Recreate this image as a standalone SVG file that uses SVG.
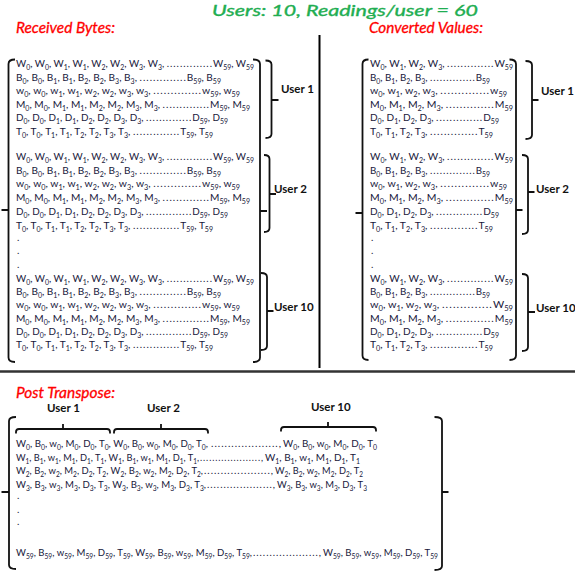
<svg xmlns="http://www.w3.org/2000/svg" width="575" height="585" viewBox="0 0 575 585">
<style>
text{font-family:Lato,"Liberation Sans",sans-serif;}
.r{font-size:10px;fill:#17173a;}
.s{font-size:7px;baseline-shift:-2.5px;}
.p{letter-spacing:1px;}
.h{font-size:15px;font-style:italic;fill:#ff0000;stroke:#ff0000;stroke-width:0.3px;}
.t{font-size:15px;font-style:italic;fill:#1fae52;stroke:#1fae52;stroke-width:0.35px;}
.u{font-size:11.5px;font-weight:bold;fill:#111;}
.d{font-size:10px;fill:#17173a;}
.b{fill:none;stroke:#111;stroke-width:1.8;stroke-linejoin:round;}
</style>
<rect width="575" height="585" fill="#fff"/>

<g id="title"><text class="t" x="345" y="16" text-anchor="middle" textLength="266" lengthAdjust="spacingAndGlyphs">Users: 10, Readings/user = 60</text></g>

<g id="dividers">
<line x1="319.5" y1="35" x2="319.5" y2="368" stroke="#000" stroke-width="2"/>
<line x1="0" y1="371.5" x2="575" y2="371.5" stroke="#333" stroke-width="2.5"/>
</g>

<g id="received">
<text class="h" x="16" y="33" textLength="99" lengthAdjust="spacingAndGlyphs">Received Bytes:</text>
<path class="b" d="M15,59.5 Q8.5,59.5 8.5,64 V357.5 Q8.5,362 15,362 M8.5,210 H1.5"/>
<path class="b" d="M253,59.5 Q260,59.5 260,64 V357.5 Q260,362 253,362 M260,211 H267"/>
<g id="recv-user1-rows" class="r">
<text x="16" y="67" textLength="238" lengthAdjust="spacingAndGlyphs">W<tspan class="s">0</tspan>, W<tspan class="s">0</tspan>, W<tspan class="s">1</tspan>, W<tspan class="s">1</tspan>, W<tspan class="s">2</tspan>, W<tspan class="s">2</tspan>, W<tspan class="s">3</tspan>, W<tspan class="s">3</tspan>, <tspan class="p">..............</tspan>W<tspan class="s">59</tspan>, W<tspan class="s">59</tspan></text>
<text x="16" y="80.6" textLength="205" lengthAdjust="spacingAndGlyphs">B<tspan class="s">0</tspan>, B<tspan class="s">0</tspan>, B<tspan class="s">1</tspan>, B<tspan class="s">1</tspan>, B<tspan class="s">2</tspan>, B<tspan class="s">2</tspan>, B<tspan class="s">3</tspan>, B<tspan class="s">3</tspan>, <tspan class="p">..............</tspan>B<tspan class="s">59</tspan>, B<tspan class="s">59</tspan></text>
<text x="16" y="94.2" textLength="224" lengthAdjust="spacingAndGlyphs">w<tspan class="s">0</tspan>, w<tspan class="s">0</tspan>, w<tspan class="s">1</tspan>, w<tspan class="s">1</tspan>, w<tspan class="s">2</tspan>, w<tspan class="s">2</tspan>, w<tspan class="s">3</tspan>, w<tspan class="s">3</tspan>, <tspan class="p">..............</tspan>w<tspan class="s">59</tspan>, w<tspan class="s">59</tspan></text>
<text x="16" y="107.8" textLength="234" lengthAdjust="spacingAndGlyphs">M<tspan class="s">0</tspan>, M<tspan class="s">0</tspan>, M<tspan class="s">1</tspan>, M<tspan class="s">1</tspan>, M<tspan class="s">2</tspan>, M<tspan class="s">2</tspan>, M<tspan class="s">3</tspan>, M<tspan class="s">3</tspan>, <tspan class="p">..............</tspan>M<tspan class="s">59</tspan>, M<tspan class="s">59</tspan></text>
<text x="16" y="121.4" textLength="212" lengthAdjust="spacingAndGlyphs">D<tspan class="s">0</tspan>, D<tspan class="s">0</tspan>, D<tspan class="s">1</tspan>, D<tspan class="s">1</tspan>, D<tspan class="s">2</tspan>, D<tspan class="s">2</tspan>, D<tspan class="s">3</tspan>, D<tspan class="s">3</tspan>, <tspan class="p">..............</tspan>D<tspan class="s">59</tspan>, D<tspan class="s">59</tspan></text>
<text x="16" y="135" textLength="197" lengthAdjust="spacingAndGlyphs">T<tspan class="s">0</tspan>, T<tspan class="s">0</tspan>, T<tspan class="s">1</tspan>, T<tspan class="s">1</tspan>, T<tspan class="s">2</tspan>, T<tspan class="s">2</tspan>, T<tspan class="s">3</tspan>, T<tspan class="s">3</tspan>, <tspan class="p">..............</tspan>T<tspan class="s">59</tspan>, T<tspan class="s">59</tspan></text>
</g>
<g id="recv-user2-rows" class="r">
<text x="16" y="160" textLength="238" lengthAdjust="spacingAndGlyphs">W<tspan class="s">0</tspan>, W<tspan class="s">0</tspan>, W<tspan class="s">1</tspan>, W<tspan class="s">1</tspan>, W<tspan class="s">2</tspan>, W<tspan class="s">2</tspan>, W<tspan class="s">3</tspan>, W<tspan class="s">3</tspan>, <tspan class="p">..............</tspan>W<tspan class="s">59</tspan>, W<tspan class="s">59</tspan></text>
<text x="16" y="173.7" textLength="205" lengthAdjust="spacingAndGlyphs">B<tspan class="s">0</tspan>, B<tspan class="s">0</tspan>, B<tspan class="s">1</tspan>, B<tspan class="s">1</tspan>, B<tspan class="s">2</tspan>, B<tspan class="s">2</tspan>, B<tspan class="s">3</tspan>, B<tspan class="s">3</tspan>, <tspan class="p">..............</tspan>B<tspan class="s">59</tspan>, B<tspan class="s">59</tspan></text>
<text x="16" y="187.4" textLength="224" lengthAdjust="spacingAndGlyphs">w<tspan class="s">0</tspan>, w<tspan class="s">0</tspan>, w<tspan class="s">1</tspan>, w<tspan class="s">1</tspan>, w<tspan class="s">2</tspan>, w<tspan class="s">2</tspan>, w<tspan class="s">3</tspan>, w<tspan class="s">3</tspan>, <tspan class="p">..............</tspan>w<tspan class="s">59</tspan>, w<tspan class="s">59</tspan></text>
<text x="16" y="201.1" textLength="234" lengthAdjust="spacingAndGlyphs">M<tspan class="s">0</tspan>, M<tspan class="s">0</tspan>, M<tspan class="s">1</tspan>, M<tspan class="s">1</tspan>, M<tspan class="s">2</tspan>, M<tspan class="s">2</tspan>, M<tspan class="s">3</tspan>, M<tspan class="s">3</tspan>, <tspan class="p">..............</tspan>M<tspan class="s">59</tspan>, M<tspan class="s">59</tspan></text>
<text x="16" y="214.8" textLength="212" lengthAdjust="spacingAndGlyphs">D<tspan class="s">0</tspan>, D<tspan class="s">0</tspan>, D<tspan class="s">1</tspan>, D<tspan class="s">1</tspan>, D<tspan class="s">2</tspan>, D<tspan class="s">2</tspan>, D<tspan class="s">3</tspan>, D<tspan class="s">3</tspan>, <tspan class="p">..............</tspan>D<tspan class="s">59</tspan>, D<tspan class="s">59</tspan></text>
<text x="16" y="228.5" textLength="197" lengthAdjust="spacingAndGlyphs">T<tspan class="s">0</tspan>, T<tspan class="s">0</tspan>, T<tspan class="s">1</tspan>, T<tspan class="s">1</tspan>, T<tspan class="s">2</tspan>, T<tspan class="s">2</tspan>, T<tspan class="s">3</tspan>, T<tspan class="s">3</tspan>, <tspan class="p">..............</tspan>T<tspan class="s">59</tspan>, T<tspan class="s">59</tspan></text>
<text class="d" x="17" y="241">.</text>
<text class="d" x="17" y="254">.</text>
<text class="d" x="17" y="268">.</text>
</g>
<g id="recv-user10-rows" class="r">
<text x="16" y="282" textLength="238" lengthAdjust="spacingAndGlyphs">W<tspan class="s">0</tspan>, W<tspan class="s">0</tspan>, W<tspan class="s">1</tspan>, W<tspan class="s">1</tspan>, W<tspan class="s">2</tspan>, W<tspan class="s">2</tspan>, W<tspan class="s">3</tspan>, W<tspan class="s">3</tspan>, <tspan class="p">..............</tspan>W<tspan class="s">59</tspan>, W<tspan class="s">59</tspan></text>
<text x="16" y="295.2" textLength="205" lengthAdjust="spacingAndGlyphs">B<tspan class="s">0</tspan>, B<tspan class="s">0</tspan>, B<tspan class="s">1</tspan>, B<tspan class="s">1</tspan>, B<tspan class="s">2</tspan>, B<tspan class="s">2</tspan>, B<tspan class="s">3</tspan>, B<tspan class="s">3</tspan>, <tspan class="p">..............</tspan>B<tspan class="s">59</tspan>, B<tspan class="s">59</tspan></text>
<text x="16" y="308.4" textLength="224" lengthAdjust="spacingAndGlyphs">w<tspan class="s">0</tspan>, w<tspan class="s">0</tspan>, w<tspan class="s">1</tspan>, w<tspan class="s">1</tspan>, w<tspan class="s">2</tspan>, w<tspan class="s">2</tspan>, w<tspan class="s">3</tspan>, w<tspan class="s">3</tspan>, <tspan class="p">..............</tspan>w<tspan class="s">59</tspan>, w<tspan class="s">59</tspan></text>
<text x="16" y="321.6" textLength="234" lengthAdjust="spacingAndGlyphs">M<tspan class="s">0</tspan>, M<tspan class="s">0</tspan>, M<tspan class="s">1</tspan>, M<tspan class="s">1</tspan>, M<tspan class="s">2</tspan>, M<tspan class="s">2</tspan>, M<tspan class="s">3</tspan>, M<tspan class="s">3</tspan>, <tspan class="p">..............</tspan>M<tspan class="s">59</tspan>, M<tspan class="s">59</tspan></text>
<text x="16" y="334.8" textLength="212" lengthAdjust="spacingAndGlyphs">D<tspan class="s">0</tspan>, D<tspan class="s">0</tspan>, D<tspan class="s">1</tspan>, D<tspan class="s">1</tspan>, D<tspan class="s">2</tspan>, D<tspan class="s">2</tspan>, D<tspan class="s">3</tspan>, D<tspan class="s">3</tspan>, <tspan class="p">..............</tspan>D<tspan class="s">59</tspan>, D<tspan class="s">59</tspan></text>
<text x="16" y="348" textLength="197" lengthAdjust="spacingAndGlyphs">T<tspan class="s">0</tspan>, T<tspan class="s">0</tspan>, T<tspan class="s">1</tspan>, T<tspan class="s">1</tspan>, T<tspan class="s">2</tspan>, T<tspan class="s">2</tspan>, T<tspan class="s">3</tspan>, T<tspan class="s">3</tspan>, <tspan class="p">..............</tspan>T<tspan class="s">59</tspan>, T<tspan class="s">59</tspan></text>
</g>
<g id="recv-brace-user1"><path class="b" d="M265.5,60.5 Q271.5,60.5 271.5,64.5 V134 Q271.5,138 265.5,138 M271.5,100 H278.5"/><text class="u" x="281" y="93">User 1</text></g>
<g id="recv-brace-user2"><path class="b" d="M264,155 Q269.5,155 269.5,159 V228 Q269.5,232 264,232 M269.5,194 H276"/><text class="u" x="274" y="193">User 2</text></g>
<g id="recv-brace-user10"><path class="b" d="M261,273 Q267,273 267,277 V346 Q267,350 261,350 M267,311 H273.5"/><text class="u" x="274" y="311">User 10</text></g>
</g>

<g id="converted">
<text class="h" x="369" y="33" textLength="114" lengthAdjust="spacingAndGlyphs">Converted Values:</text>
<path class="b" d="M368.5,59.5 Q362.5,59.5 362.5,64 V355.5 Q362.5,360 368.5,360 M362.5,213 H355.5"/>
<path class="b" d="M509.5,59.5 Q516,59.5 516,64 V355.5 Q516,360 509.5,360 M516,210 H522.5"/>
<g id="conv-user1-rows" class="r">
<text x="370" y="67" textLength="143" lengthAdjust="spacingAndGlyphs">W<tspan class="s">0</tspan>, W<tspan class="s">1</tspan>, W<tspan class="s">2</tspan>, W<tspan class="s">3</tspan>, <tspan class="p">..............</tspan>W<tspan class="s">59</tspan></text>
<text x="370" y="80.6" textLength="120" lengthAdjust="spacingAndGlyphs">B<tspan class="s">0</tspan>, B<tspan class="s">1</tspan>, B<tspan class="s">2</tspan>, B<tspan class="s">3</tspan>, <tspan class="p">..............</tspan>B<tspan class="s">59</tspan></text>
<text x="370" y="94.2" textLength="137" lengthAdjust="spacingAndGlyphs">w<tspan class="s">0</tspan>, w<tspan class="s">1</tspan>, w<tspan class="s">2</tspan>, w<tspan class="s">3</tspan>, <tspan class="p">..............</tspan>w<tspan class="s">59</tspan></text>
<text x="370" y="107.8" textLength="143" lengthAdjust="spacingAndGlyphs">M<tspan class="s">0</tspan>, M<tspan class="s">1</tspan>, M<tspan class="s">2</tspan>, M<tspan class="s">3</tspan>, <tspan class="p">..............</tspan>M<tspan class="s">59</tspan></text>
<text x="370" y="121.4" textLength="129" lengthAdjust="spacingAndGlyphs">D<tspan class="s">0</tspan>, D<tspan class="s">1</tspan>, D<tspan class="s">2</tspan>, D<tspan class="s">3</tspan>, <tspan class="p">..............</tspan>D<tspan class="s">59</tspan></text>
<text x="370" y="135" textLength="123" lengthAdjust="spacingAndGlyphs">T<tspan class="s">0</tspan>, T<tspan class="s">1</tspan>, T<tspan class="s">2</tspan>, T<tspan class="s">3</tspan>, <tspan class="p">..............</tspan>T<tspan class="s">59</tspan></text>
</g>
<g id="conv-user2-rows" class="r">
<text x="370" y="160" textLength="143" lengthAdjust="spacingAndGlyphs">W<tspan class="s">0</tspan>, W<tspan class="s">1</tspan>, W<tspan class="s">2</tspan>, W<tspan class="s">3</tspan>, <tspan class="p">..............</tspan>W<tspan class="s">59</tspan></text>
<text x="370" y="173.7" textLength="120" lengthAdjust="spacingAndGlyphs">B<tspan class="s">0</tspan>, B<tspan class="s">1</tspan>, B<tspan class="s">2</tspan>, B<tspan class="s">3</tspan>, <tspan class="p">..............</tspan>B<tspan class="s">59</tspan></text>
<text x="370" y="187.4" textLength="137" lengthAdjust="spacingAndGlyphs">w<tspan class="s">0</tspan>, w<tspan class="s">1</tspan>, w<tspan class="s">2</tspan>, w<tspan class="s">3</tspan>, <tspan class="p">..............</tspan>w<tspan class="s">59</tspan></text>
<text x="370" y="201.1" textLength="143" lengthAdjust="spacingAndGlyphs">M<tspan class="s">0</tspan>, M<tspan class="s">1</tspan>, M<tspan class="s">2</tspan>, M<tspan class="s">3</tspan>, <tspan class="p">..............</tspan>M<tspan class="s">59</tspan></text>
<text x="370" y="214.8" textLength="129" lengthAdjust="spacingAndGlyphs">D<tspan class="s">0</tspan>, D<tspan class="s">1</tspan>, D<tspan class="s">2</tspan>, D<tspan class="s">3</tspan>, <tspan class="p">..............</tspan>D<tspan class="s">59</tspan></text>
<text x="370" y="228.5" textLength="123" lengthAdjust="spacingAndGlyphs">T<tspan class="s">0</tspan>, T<tspan class="s">1</tspan>, T<tspan class="s">2</tspan>, T<tspan class="s">3</tspan>, <tspan class="p">..............</tspan>T<tspan class="s">59</tspan></text>
<text class="d" x="371" y="241">.</text>
<text class="d" x="371" y="254">.</text>
<text class="d" x="371" y="268">.</text>
</g>
<g id="conv-user10-rows" class="r">
<text x="370" y="282" textLength="143" lengthAdjust="spacingAndGlyphs">W<tspan class="s">0</tspan>, W<tspan class="s">1</tspan>, W<tspan class="s">2</tspan>, W<tspan class="s">3</tspan>, <tspan class="p">..............</tspan>W<tspan class="s">59</tspan></text>
<text x="370" y="295.2" textLength="120" lengthAdjust="spacingAndGlyphs">B<tspan class="s">0</tspan>, B<tspan class="s">1</tspan>, B<tspan class="s">2</tspan>, B<tspan class="s">3</tspan>, <tspan class="p">..............</tspan>B<tspan class="s">59</tspan></text>
<text x="370" y="308.4" textLength="143" lengthAdjust="spacingAndGlyphs">w<tspan class="s">0</tspan>, w<tspan class="s">1</tspan>, w<tspan class="s">2</tspan>, w<tspan class="s">3</tspan>, <tspan class="p">..............</tspan>W<tspan class="s">59</tspan></text>
<text x="370" y="321.6" textLength="143" lengthAdjust="spacingAndGlyphs">M<tspan class="s">0</tspan>, M<tspan class="s">1</tspan>, M<tspan class="s">2</tspan>, M<tspan class="s">3</tspan>, <tspan class="p">..............</tspan>M<tspan class="s">59</tspan></text>
<text x="370" y="334.8" textLength="129" lengthAdjust="spacingAndGlyphs">D<tspan class="s">0</tspan>, D<tspan class="s">1</tspan>, D<tspan class="s">2</tspan>, D<tspan class="s">3</tspan>, <tspan class="p">..............</tspan>D<tspan class="s">59</tspan></text>
<text x="370" y="348" textLength="123" lengthAdjust="spacingAndGlyphs">T<tspan class="s">0</tspan>, T<tspan class="s">1</tspan>, T<tspan class="s">2</tspan>, T<tspan class="s">3</tspan>, <tspan class="p">..............</tspan>T<tspan class="s">59</tspan></text>
</g>
<g id="conv-brace-user1"><path class="b" d="M525.5,61 Q532,61 532,65 V135 Q532,139 525.5,139 M532,100 H538.5"/><text class="u" x="541" y="95">User 1</text></g>
<g id="conv-brace-user2"><path class="b" d="M522,155 Q528,155 528,159 V230 Q528,234 522,234 M528,192 H534.5"/><text class="u" x="536" y="193">User 2</text></g>
<g id="conv-brace-user10"><path class="b" d="M522,274 Q528,274 528,278 V347 Q528,351 522,351 M528,312 H535"/><text class="u" x="536" y="312">User 10</text></g>
</g>

<g id="post">
<text class="h" x="16" y="398" textLength="99" lengthAdjust="spacingAndGlyphs">Post Transpose:</text>
<g id="post-brace-user1"><path class="b" d="M16,433.5 V432 Q16,429 19,429 H107 Q110,429 110,432 V433.5 M63,429 V424"/><text class="u" x="47" y="412">User 1</text></g>
<g id="post-brace-user2"><path class="b" d="M114,433.5 V432 Q114,429 117,429 H205 Q208,429 208,432 V433.5 M161,429 V424"/><text class="u" x="147" y="412">User 2</text></g>
<g id="post-brace-user10"><path class="b" d="M281,431.5 V430 Q281,427 284,427 H373 Q376,427 376,430 V431.5 M328,427 V422"/><text class="u" x="311" y="411">User 10</text></g>
<path class="b" d="M16,417 Q9,417 9,421 V565 Q9,569 16,569 M9,492 H1.5"/>
<path class="b" d="M434.5,417 Q442,417 442,421 V566 Q442,570 434.5,570 M442,492 H448.5"/>
<g id="post-rows" class="r">
<text x="16" y="447" textLength="192" lengthAdjust="spacingAndGlyphs">W<tspan class="s">0</tspan>, B<tspan class="s">0</tspan>, w<tspan class="s">0</tspan>, M<tspan class="s">0</tspan>, D<tspan class="s">0</tspan>, T<tspan class="s">0</tspan>, W<tspan class="s">0</tspan>, B<tspan class="s">0</tspan>, w<tspan class="s">0</tspan>, M<tspan class="s">0</tspan>, D<tspan class="s">0</tspan>, T<tspan class="s">0</tspan>,</text>
<text x="211" y="447" textLength="70" lengthAdjust="spacingAndGlyphs"><tspan class="p">....................</tspan>,</text>
<text x="283" y="447" textLength="94" lengthAdjust="spacingAndGlyphs">W<tspan class="s">0</tspan>, B<tspan class="s">0</tspan>, w<tspan class="s">0</tspan>, M<tspan class="s">0</tspan>, D<tspan class="s">0</tspan>, T<tspan class="s">0</tspan></text>
<text x="16" y="460.7" textLength="183" lengthAdjust="spacingAndGlyphs">W<tspan class="s">1</tspan>, B<tspan class="s">1</tspan>, w<tspan class="s">1</tspan>, M<tspan class="s">1</tspan>, D<tspan class="s">1</tspan>, T<tspan class="s">1</tspan>, W<tspan class="s">1</tspan>, B<tspan class="s">1</tspan>, w<tspan class="s">1</tspan>, M<tspan class="s">1</tspan>, D<tspan class="s">1</tspan>, T<tspan class="s">1</tspan>,</text>
<text x="200" y="460.7" textLength="63" lengthAdjust="spacingAndGlyphs"><tspan class="p">....................</tspan>,</text>
<text x="265" y="460.7" textLength="95" lengthAdjust="spacingAndGlyphs">W<tspan class="s">1</tspan>, B<tspan class="s">1</tspan>, w<tspan class="s">1</tspan>, M<tspan class="s">1</tspan>, D<tspan class="s">1</tspan>, T<tspan class="s">1</tspan></text>
<text x="16" y="474.4" textLength="187" lengthAdjust="spacingAndGlyphs">W<tspan class="s">2</tspan>, B<tspan class="s">2</tspan>, w<tspan class="s">2</tspan>, M<tspan class="s">2</tspan>, D<tspan class="s">2</tspan>, T<tspan class="s">2</tspan>, W<tspan class="s">2</tspan>, B<tspan class="s">2</tspan>, w<tspan class="s">2</tspan>, M<tspan class="s">2</tspan>, D<tspan class="s">2</tspan>, T<tspan class="s">2</tspan>,</text>
<text x="204" y="474.4" textLength="69" lengthAdjust="spacingAndGlyphs"><tspan class="p">....................</tspan>,</text>
<text x="275" y="474.4" textLength="88" lengthAdjust="spacingAndGlyphs">W<tspan class="s">2</tspan>, B<tspan class="s">2</tspan>, w<tspan class="s">2</tspan>, M<tspan class="s">2</tspan>, D<tspan class="s">2</tspan>, T<tspan class="s">2</tspan></text>
<text x="16" y="488" textLength="190" lengthAdjust="spacingAndGlyphs">W<tspan class="s">3</tspan>, B<tspan class="s">3</tspan>, w<tspan class="s">3</tspan>, M<tspan class="s">3</tspan>, D<tspan class="s">3</tspan>, T<tspan class="s">3</tspan>, W<tspan class="s">3</tspan>, B<tspan class="s">3</tspan>, w<tspan class="s">3</tspan>, M<tspan class="s">3</tspan>, D<tspan class="s">3</tspan>, T<tspan class="s">3</tspan>,</text>
<text x="207" y="488" textLength="68" lengthAdjust="spacingAndGlyphs"><tspan class="p">....................</tspan>,</text>
<text x="277" y="488" textLength="90" lengthAdjust="spacingAndGlyphs">W<tspan class="s">3</tspan>, B<tspan class="s">3</tspan>, w<tspan class="s">3</tspan>, M<tspan class="s">3</tspan>, D<tspan class="s">3</tspan>, T<tspan class="s">3</tspan></text>
<text class="d" x="17" y="499">.</text>
<text class="d" x="17" y="513">.</text>
<text class="d" x="17" y="525">.</text>
<text x="16" y="556" textLength="236" lengthAdjust="spacingAndGlyphs">W<tspan class="s">59</tspan>, B<tspan class="s">59</tspan>, w<tspan class="s">59</tspan>, M<tspan class="s">59</tspan>, D<tspan class="s">59</tspan>, T<tspan class="s">59</tspan>, W<tspan class="s">59</tspan>, B<tspan class="s">59</tspan>, w<tspan class="s">59</tspan>, M<tspan class="s">59</tspan>, D<tspan class="s">59</tspan>, T<tspan class="s">59</tspan>,</text>
<text x="253" y="556" textLength="68" lengthAdjust="spacingAndGlyphs"><tspan class="p">....................</tspan>,</text>
<text x="323" y="556" textLength="115" lengthAdjust="spacingAndGlyphs">W<tspan class="s">59</tspan>, B<tspan class="s">59</tspan>, w<tspan class="s">59</tspan>, M<tspan class="s">59</tspan>, D<tspan class="s">59</tspan>, T<tspan class="s">59</tspan></text>
</g>
</g>
</svg>
